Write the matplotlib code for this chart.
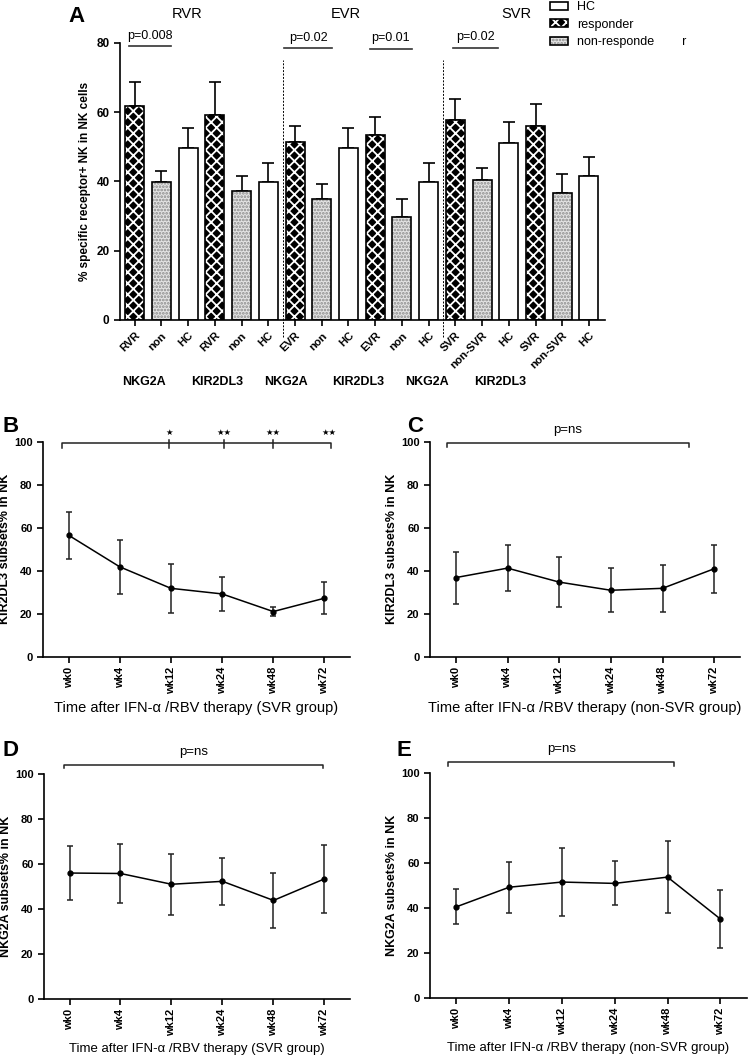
import numpy as np
import matplotlib
matplotlib.use('Agg')
import matplotlib.pyplot as plt
from matplotlib.patches import Patch

plt.rcParams['font.family'] = ['Liberation Sans', 'DejaVu Sans']
plt.rcParams['hatch.linewidth'] = 1.3

# panel A data
bar_labels = ['RVR', 'non', 'HC', 'RVR', 'non', 'HC',
              'EVR', 'non', 'HC', 'EVR', 'non', 'HC',
              'SVR', 'non-SVR', 'HC', 'SVR', 'non-SVR', 'HC']
bar_kind = ['resp', 'non', 'hc'] * 6
bar_mean = [61.8, 39.8, 49.7, 59.1, 37.4, 39.8,
            51.4, 34.9, 49.7, 53.4, 29.7, 39.8,
            57.8, 40.5, 51.2, 56.1, 36.6, 41.6]
bar_err = [7.0, 3.3, 5.7, 9.7, 4.3, 5.5,
           4.7, 4.4, 5.7, 5.2, 5.2, 5.5,
           6.0, 3.5, 5.9, 6.4, 5.5, 5.6]
receptor_labels = ['NKG2A', 'KIR2DL3', 'NKG2A', 'KIR2DL3', 'NKG2A', 'KIR2DL3']
response_groups = ['RVR', 'EVR', 'SVR']
pvals_A = ['p=0.008', 'p=0.02', 'p=0.01', 'p=0.02']

# panels B-E data
weeks = ['wk0', 'wk4', 'wk12', 'wk24', 'wk48', 'wk72']
kir_svr = [56.5, 41.8, 31.8, 29.2, 21.0, 27.2]
kir_svr_sd = [11.0, 12.6, 11.5, 8.0, 2.0, 7.4]
kir_non = [36.8, 41.2, 34.7, 30.9, 31.8, 40.9]
kir_non_sd = [12.1, 10.8, 11.5, 10.2, 11.0, 11.2]
nkg_svr = [56.0, 55.8, 51.0, 52.3, 43.8, 53.4]
nkg_svr_sd = [12.2, 13.3, 13.5, 10.4, 12.2, 15.1]
nkg_non = [40.4, 49.1, 51.4, 50.8, 53.6, 35.0]
nkg_non_sd = [7.7, 11.4, 15.2, 9.8, 16.1, 12.9]

W, H = 750, 1063
fig = plt.figure(figsize=(W / 100, H / 100), dpi=100)


def px_axes(left, right, top, bottom):
    return fig.add_axes([left / W, 1 - bottom / H, (right - left) / W, (bottom - top) / H])


def style(ax):
    for s in ['top', 'right']:
        ax.spines[s].set_visible(False)
    for s in ['left', 'bottom']:
        ax.spines[s].set_linewidth(1.2)
    ax.tick_params(width=1.2, length=4)


# ---------- Panel A ----------
axA = px_axes(120, 605, 43, 320)
style(axA)
x = np.arange(len(bar_mean))
styles = {'resp': dict(color='black', hatch='xxx', edgecolor='white'),
          'non': dict(color='#e4e4e4', hatch='.....', edgecolor='#8a8a8a'),
          'hc': dict(color='white', edgecolor='white')}
for i in x:
    st = styles[bar_kind[i]]
    axA.bar(i, bar_mean[i], width=0.71, linewidth=0, zorder=2, **st)
axA.bar(x, bar_mean, width=0.71, fill=False, edgecolor='black', linewidth=1.2, zorder=3)
axA.errorbar(x, bar_mean, yerr=[np.zeros(len(x)), bar_err], fmt='none',
             ecolor='black', elinewidth=1.2, capsize=4.5, capthick=1.2, zorder=1)
axA.set_xlim(-0.55, 17.6)
axA.set_ylim(0, 80)
axA.set_yticks([0, 20, 40, 60, 80])
axA.set_yticklabels(['0', '20', '40', '60', '80'], fontweight='bold', fontsize=8.5)
axA.set_xticks(x)
axA.set_xticklabels(bar_labels, rotation=45, ha='right', rotation_mode='anchor',
                    fontweight='bold', fontsize=8)
axA.set_ylabel('% specific receptor+ NK in NK cells', fontweight='bold', fontsize=8.5, labelpad=4)

for xd in [5.55, 11.55]:
    axA.plot([xd, xd], [-5, 75], ls=(0, (2, 1.5)), color='black', lw=0.7, clip_on=False)

for (x0, x1, y), t in zip([(-0.2, 1.35, 79.1), (5.6, 7.38, 78.6), (8.81, 10.37, 78.4), (11.9, 13.58, 78.7)], pvals_A):
    axA.plot([x0, x1], [y, y], color='#333333', lw=1.2, clip_on=False)
    axA.text((x0 + x1) / 2, y + 1.2, t, ha='center', va='bottom', fontsize=9)

for xc, t in zip([1.95, 7.9, 14.3], response_groups):
    axA.text(xc, 88.5, t, ha='center', va='center', fontsize=10.5)

for xc, t in zip([0.34, 3.07, 5.66, 8.36, 10.95, 13.66], receptor_labels):
    axA.text(xc, -17.8, t, ha='center', va='center', fontweight='bold', fontsize=9)

fig.text(68 / W, 1 - 17 / H, 'A', fontsize=16, fontweight='bold', va='center')

leg_handles = [(Patch(facecolor='white', edgecolor='black', lw=1.2),),
               (Patch(facecolor='black', hatch='xxx', edgecolor='white', lw=0),
                Patch(fill=False, edgecolor='black', lw=1.2)),
               (Patch(facecolor='#e4e4e4', hatch='.....', edgecolor='#8a8a8a', lw=0),
                Patch(fill=False, edgecolor='black', lw=1.2))]
fig.legend(leg_handles, ['HC', 'responder', 'non-responde        r'],
           loc='upper left', bbox_to_anchor=(550 / W, 1 - 1 / H), frameon=False,
           fontsize=9, handlelength=1.45, handleheight=0.6, handletextpad=0.7,
           labelspacing=0.45, borderpad=0, borderaxespad=0)


# ---------- Panels B-E ----------
def line_panel(ax, mean, sd, xlabel, ylabel, xfs):
    style(ax)
    xi = np.arange(len(weeks))
    ax.errorbar(xi, mean, yerr=sd, color='black', ecolor='#222222', lw=1.1, elinewidth=1.1,
                marker='o', ms=3.5, capsize=2.5, capthick=1.1)
    ax.set_xlim(-0.5, 5.5)
    ax.set_ylim(0, 100)
    ax.set_yticks([0, 20, 40, 60, 80, 100])
    ax.set_yticklabels(['0', '20', '40', '60', '80', '100'], fontweight='bold', fontsize=8)
    ax.set_xticks(xi)
    ax.set_xticklabels(weeks, rotation=90, fontweight='bold', fontsize=8)
    ax.set_xlabel(xlabel, fontsize=xfs, labelpad=5)
    ax.set_ylabel(ylabel, fontweight='bold', fontsize=9, labelpad=2)


def bracket(ax, x0, x1, y, drop, label=None):
    ax.plot([x0, x0, x1, x1], [y - drop, y, y, y - drop], color='#222222', lw=1.1, clip_on=False)
    if label:
        ax.text((x0 + x1) / 2, y + 3, label, ha='center', va='bottom', fontsize=9.5)


axB = px_axes(43, 350, 441.7, 656.7)
line_panel(axB, kir_svr, kir_svr_sd, 'Time after IFN-α /RBV therapy (SVR group)',
           'KIR2DL3 subsets% in NK', 10.5)
bracket(axB, -0.13, 5.12, 99.5, 2.2)
for xs, st in zip([1.97, 3.03, 4.0, 5.08], ['★', '★★', '★★', '★★']):
    if xs < 5:
        axB.plot([xs, xs], [97, 100.8], color='#222222', lw=1.1, clip_on=False)
    axB.text(xs, 104.5, st, ha='center', va='center', fontsize=6, family='DejaVu Sans')

axC = px_axes(430, 740, 441.7, 656.7)
line_panel(axC, kir_non, kir_non_sd, 'Time after IFN-α /RBV therapy (non-SVR group)',
           'KIR2DL3 subsets% in NK', 10.5)
bracket(axC, -0.18, 4.52, 99.5, 1.8, 'p=ns')

axD = px_axes(44, 350, 774.3, 998.7)
line_panel(axD, nkg_svr, nkg_svr_sd, 'Time after IFN-α /RBV therapy (SVR group)',
           'NKG2A subsets% in NK', 9.5)
bracket(axD, -0.11, 4.97, 104.3, 1.5, 'p=ns')

axE = px_axes(430, 746.7, 772.7, 997.7)
line_panel(axE, nkg_non, nkg_non_sd, 'Time after IFN-α /RBV therapy (non-SVR group)',
           'NKG2A subsets% in NK', 9.5)
bracket(axE, -0.16, 4.13, 104.7, 1.5, 'p=ns')

for xp, yp, t in [(3, 427, 'B'), (407, 427, 'C'), (2, 751, 'D'), (396, 751, 'E')]:
    fig.text(xp / W, 1 - yp / H, t, fontsize=16, fontweight='bold', va='center')

fig.savefig('out.png', dpi=100)
